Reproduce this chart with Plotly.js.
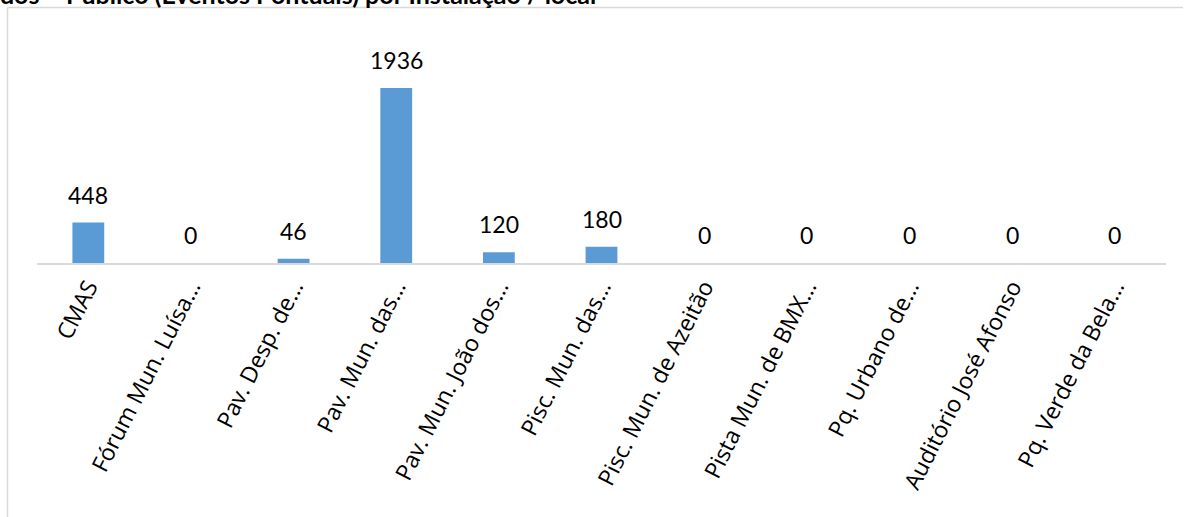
<!DOCTYPE html>
<html>
<head>
<meta charset="utf-8">
<script src="https://cdn.plot.ly/plotly-3.0.1.min.js"></script>
<style>
  html, body { margin: 0; padding: 0; background: #ffffff; }
  #chart { width: 1184px; height: 517px; }
</style>
</head>
<body>
<div id="chart"></div>
<script>
const categories = [
  "CMAS",
  "Fórum Mun. Luísa…",
  "Pav. Desp. de…",
  "Pav. Mun. das…",
  "Pav. Mun. João dos…",
  "Pisc. Mun. das…",
  "Pisc. Mun. de Azeitão",
  "Pista Mun. de BMX…",
  "Pq. Urbano de…",
  "Auditório José Afonso",
  "Pq. Verde da Bela…"
];
const values = [448, 0, 46, 1936, 120, 180, 0, 0, 0, 0, 0];
const titleText = "Resultados – Público (Eventos Pontuais) por Instalação / local";

const W = 1184, H = 517;
const M = { l: 37, r: 18, t: 30, b: 254 };
const plotW = W - M.l - M.r, plotH = H - M.t - M.b;
const px2x = p => (p - M.l) / plotW;
const px2y = p => 1 - (p - M.t) / plotH;

const trace = {
  type: "bar",
  x: categories,
  y: values,
  marker: { color: "#5B9BD5", line: { width: 0 } },
  hoverinfo: "x+y"
};

const labelAnnotations = categories.map((c, i) => ({
  x: c, y: values[i], xref: "x", yref: "y",
  text: String(values[i]),
  showarrow: false,
  yanchor: "bottom",
  yshift: 12,
  font: { family: "Lato, 'Open Sans', sans-serif", size: 23, color: "#000000" }
}));

const layout = {
  width: W, height: H,
  margin: M,
  paper_bgcolor: "#ffffff",
  plot_bgcolor: "#ffffff",
  showlegend: false,
  bargap: 0.69,
  xaxis: {
    type: "category",
    showline: true, linecolor: "#D9D9D9", linewidth: 1.5,
    showgrid: false, zeroline: false,
    ticks: "",
    tickangle: -63,
    tickfont: { family: "'Open Sans', sans-serif", size: 23, color: "#000000" }
  },
  yaxis: {
    range: [0, 1936 * plotH / 175],
    visible: false, showgrid: false, zeroline: false
  },
  annotations: labelAnnotations.concat([{
    xref: "paper", yref: "paper",
    x: px2x(598), y: px2y(11),
    xanchor: "right", yanchor: "bottom",
    text: "<b>" + titleText + "</b>",
    showarrow: false,
    font: { family: "Lato, sans-serif", size: 25, color: "#000000" }
  }]),
  shapes: [
    { type: "line", xref: "paper", yref: "paper",
      x0: px2x(7.5), x1: px2x(7.5), y0: px2y(7.5), y1: px2y(540),
      line: { color: "#D9D9D9", width: 1.5 } },
    { type: "line", xref: "paper", yref: "paper",
      x0: px2x(7.5), x1: px2x(1183), y0: px2y(7.5), y1: px2y(7.5),
      line: { color: "#D9D9D9", width: 1.5 } }
  ]
};

Plotly.newPlot("chart", [trace], layout, { staticPlot: true, displayModeBar: false });
</script>
</body>
</html>
